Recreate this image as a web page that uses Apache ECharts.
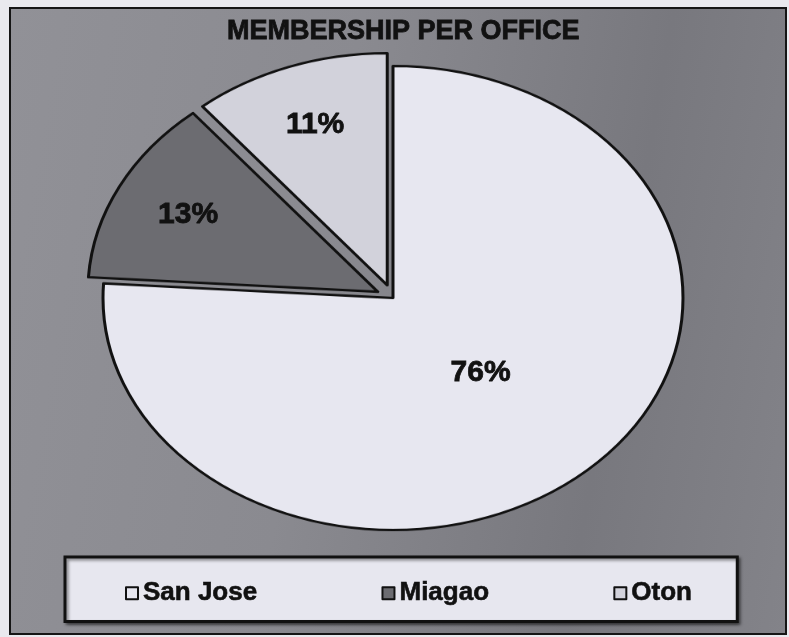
<!DOCTYPE html>
<html>
<head>
<meta charset="utf-8">
<script src="https://cdn.jsdelivr.net/npm/echarts@6/dist/echarts.min.js"></script>
<style>
html, body { margin: 0; padding: 0; overflow: hidden; width: 789px; height: 637px; background: #e9e9ee; }
#panel { position: absolute; left: 9px; top: 7px; width: 774px; height: 624px; border: 2px solid #151515;
  background: linear-gradient(100deg, #919197 0%, #8a8a90 40%, #78787e 75%, #838389 100%); }
#pie { position: absolute; left: 0; top: 0; width: 789px; height: 800px; transform-origin: 0 0; transform: scaleY(0.8); }
#top { position: absolute; left: 0; top: 0; width: 789px; height: 637px; }
</style>
</head>
<body>
<div id="panel"></div>
<div id="pie"></div>
<div id="top"></div>
<script>
// ---- data ----
const offices = ['San Jose', 'Miagao', 'Oton'];
const members = [76, 13, 11];
const exploded = [false, true, true];
const sliceColors = ['#e7e7f0', '#6c6c71', '#d2d2db'];
const chartTitle = 'MEMBERSHIP PER OFFICE';

// ---- geometry (screen) ----
const SCALE_Y = 0.8;
const CX = 393, CY = 298, R = 290, OFFSET = 17;
const FONT = "'Liberation Sans', Arial, sans-serif";

// Pie instance (stretched into an ellipse by CSS scaleY)
const pieChart = echarts.init(document.getElementById('pie'), null, { renderer: 'canvas' });
pieChart.setOption({
  animation: false,
  series: [{
    type: 'pie',
    center: [CX, CY / SCALE_Y],
    radius: [0, R],
    startAngle: 90,
    clockwise: true,
    selectedMode: 'multiple',
    selectedOffset: OFFSET,
    label: { show: false },
    labelLine: { show: false },
    emphasis: { disabled: true },
    itemStyle: { borderColor: '#111', borderWidth: 3 },
    data: offices.map((n, i) => ({
      name: n, value: members[i], selected: exploded[i],
      itemStyle: { color: sliceColors[i] }
    }))
  }]
});

// Overlay instance: title, legend and percentage labels
const topChart = echarts.init(document.getElementById('top'), null, { renderer: 'canvas' });
function squash(p) {
  const r = p.labelRect;
  let lx = r.x + r.width / 2, ly = r.y + r.height / 2;
  if (exploded[p.dataIndex]) {
    const a = Math.atan2(ly - CY, lx - CX);
    lx += OFFSET * Math.cos(a);
    ly += OFFSET * Math.sin(a);
  }
  return { x: lx, y: CY + (ly - CY) * SCALE_Y, align: 'center', verticalAlign: 'middle' };
}
function labelSeries(radius, showIdx) {
  return {
    type: 'pie',
    center: [CX, CY],
    radius: radius,
    startAngle: 90,
    clockwise: true,
    selectedMode: false,
    silent: true,
    emphasis: { disabled: true },
    labelLine: { show: false },
    itemStyle: { color: 'rgba(0,0,0,0)', borderWidth: 0 },
    label: {
      show: true, position: 'inside', formatter: '{d}%',
      fontFamily: FONT, fontWeight: 'bold', fontSize: 30, color: '#111',
      textBorderColor: '#111', textBorderWidth: 0.8
    },
    labelLayout: squash,
    data: offices.map((n, i) => ({
      name: n, value: members[i],
      label: { show: showIdx.includes(i) }
    }))
  };
}
topChart.setOption({
  animation: false,
  backgroundColor: 'transparent',
  title: {
    text: chartTitle, left: 227, top: 18, padding: 0,
    textStyle: { fontFamily: FONT, fontWeight: 'bold', fontSize: 27, color: '#111',
      textBorderColor: '#111', textBorderWidth: 0.8 }
  },
  legend: {
    left: 65, top: 557,
    orient: 'horizontal',
    selectedMode: false,
    padding: [23, 45, 15, 60],
    itemGap: 124,
    itemWidth: 12, itemHeight: 12,
    icon: 'rect',
    backgroundColor: '#e7e7ef',
    borderColor: '#111', borderWidth: 3,
    shadowColor: 'rgba(0,0,0,0.45)', shadowBlur: 3, shadowOffsetX: 2, shadowOffsetY: 2,
    textStyle: { fontFamily: FONT, fontWeight: 'bold', fontSize: 26, color: '#111',
      textBorderColor: '#111', textBorderWidth: 0.6 },
    data: offices.map((n, i) => ({
      name: n, itemStyle: { color: sliceColors[i], borderColor: '#111', borderWidth: 2 }
    }))
  },
  series: [
    labelSeries([0, 250], [0]),
    labelSeries([0, 420], [1, 2])
  ]
});
</script>
</body>
</html>
